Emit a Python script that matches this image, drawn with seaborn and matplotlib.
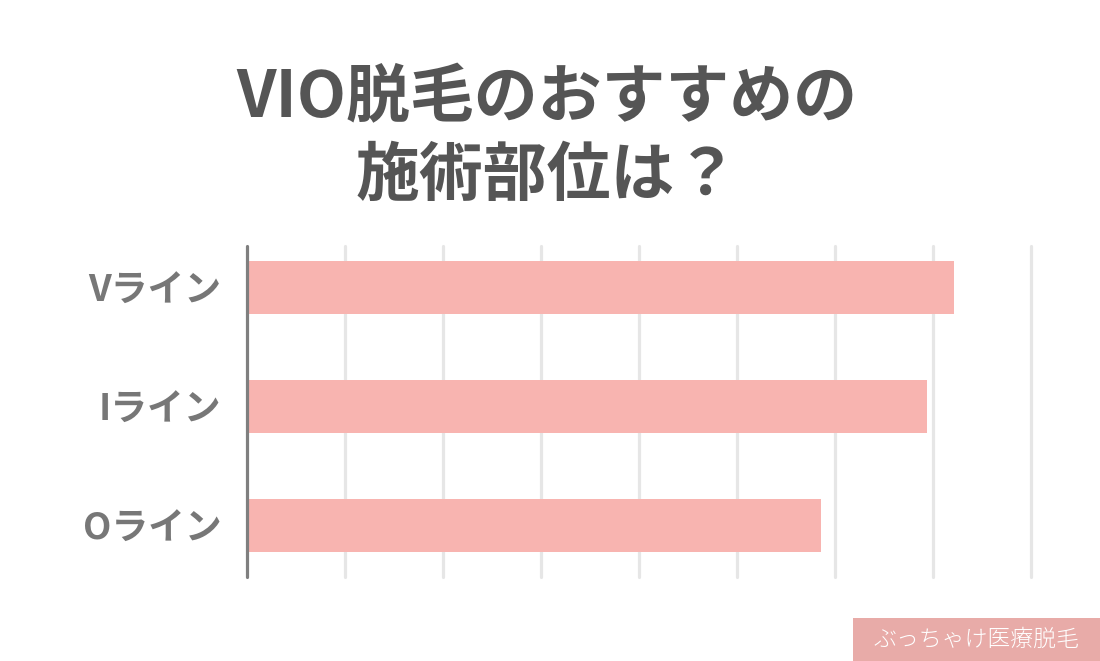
import matplotlib
matplotlib.use("Agg")
import matplotlib.pyplot as plt
import seaborn as sns
import pandas as pd
from matplotlib.patches import Rectangle

categories = ["Vライン", "Iライン", "Oライン"]
values = [72.1, 69.4, 58.6]
title_text = "VIO脱毛のおすすめの\n施術部位は？"
credit_text = "ぶっちゃけ医療脱毛"

sns.set_theme(style="white")
plt.rcParams['font.family'] = ['Noto Sans CJK JP', 'DejaVu Sans']

df = pd.DataFrame({"部位": categories, "値": values})

fig = plt.figure(figsize=(11, 6.61), dpi=100)
ax = fig.add_axes([0.2241, 0.1266, 0.9373 - 0.2241, 0.6278 - 0.1266])

sns.barplot(data=df, x="値", y="部位", orient="h", color="#F8B4B0",
            width=0.445, saturation=1, ax=ax, edgecolor="none", zorder=3)

ax.set_xlim(0, 80)
ax.set_ylim(2.433, -0.35)
ax.set_xticks(range(10, 81, 10))
ax.tick_params(axis="x", length=0, labelbottom=False)
ax.tick_params(axis="y", length=0, pad=18)
ax.grid(axis="x", color="#E6E6E6", linewidth=2.3, zorder=0)
ax.grid(axis="y", visible=False)
for gl in ax.get_xgridlines():
    gl.set_solid_capstyle("round")
    gl.set_clip_on(False)
ax.set_axisbelow(True)
for s in ["top", "right", "bottom"]:
    ax.spines[s].set_visible(False)
ax.spines["left"].set_color("#7F7F7F")
ax.spines["left"].set_linewidth(2.3)
ax.spines["left"].set_capstyle("round")
ax.spines["left"].set_zorder(4)
ax.set_xlabel("")
ax.set_ylabel("")
for lab in ax.get_yticklabels():
    lab.set_fontsize(26.5)
    lab.set_fontweight("bold")
    lab.set_color("#777777")

fig.text(0.497, 0.792, title_text, ha="center", va="center", fontsize=46,
         fontweight="bold", color="#555555", linespacing=1.25)

fig.patches.append(Rectangle((853 / 1100, 0), 1 - 853 / 1100, 43 / 661,
                             transform=fig.transFigure, facecolor="#E8ABA8",
                             edgecolor="none", zorder=1))
fig.text(976 / 1100, 21.5 / 661, credit_text, ha="center", va="center",
         fontsize=16.5, color="white", fontweight="light")

fig.savefig("out.png", dpi=100)
